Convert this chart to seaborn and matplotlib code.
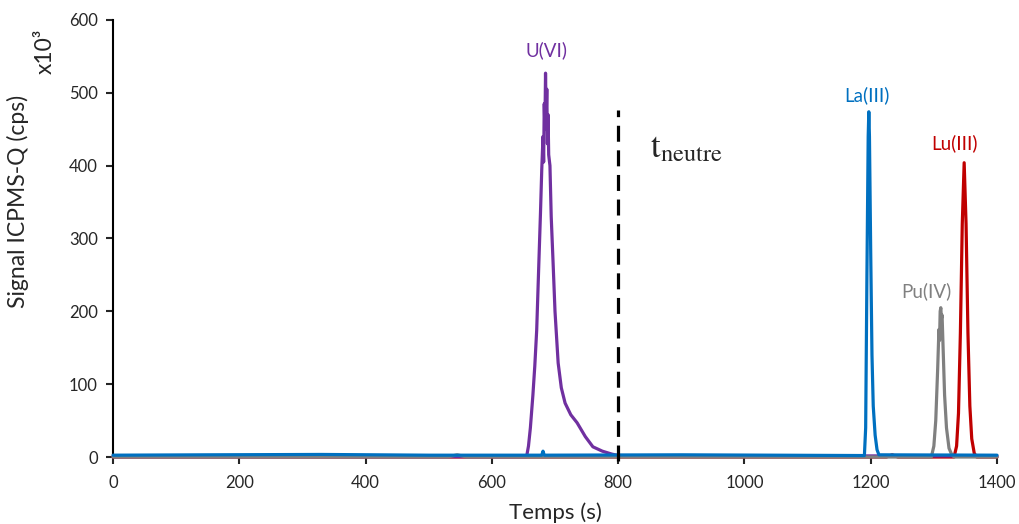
import numpy as np
import pandas as pd
import matplotlib
matplotlib.use('Agg')
import matplotlib.pyplot as plt
import seaborn as sns

# Signal ICPMS-Q (x10^3 cps)
u_t = [0, 300, 500, 655, 658, 661, 665, 668, 671, 674, 677, 679, 681, 682, 683, 684, 685, 686, 687,
       688, 689, 690, 692, 694, 697, 700, 705, 710, 716, 725, 735, 748, 760, 775, 790, 800, 1000, 1400]
u_v = [0.5, 0.5, 0.5, 0.5, 15, 40, 85, 125, 174, 255, 335, 394, 440, 405, 485, 450, 527, 465, 505,
       430, 470, 415, 400, 330, 266, 200, 129, 95, 74, 58, 47, 28, 14, 8, 4, 2, 1.5, 1.5]

la_t = [0, 150, 330, 500, 679, 681, 683, 900, 1190, 1192, 1194, 1196, 1197, 1198, 1200, 1202,
        1204, 1207, 1210, 1213, 1400]
la_v = [2.5, 3, 3.5, 2.5, 2.5, 8, 2.5, 3, 2, 40, 250, 440, 474, 440, 280, 140, 70, 30, 10, 3, 2.5]

pu_t = [0, 530, 545, 560, 1296, 1300, 1303, 1306, 1308, 1309, 1310, 1311, 1312, 1313, 1315,
        1317, 1320, 1324, 1328, 1332, 1400]
pu_v = [0, 0, 3, 0, 0, 15, 50, 120, 175, 160, 200, 205, 190, 195, 140, 85, 40, 12, 4, 0, 0]

lu_t = [0, 1225, 1234, 1243, 1332, 1336, 1339, 1342, 1345, 1348, 1351, 1354, 1357, 1360, 1364,
        1368, 1400]
lu_v = [0, 0, 3, 0, 0, 15, 60, 170, 320, 404, 320, 170, 70, 25, 5, 0, 0]

noms = ['Lu(III)', 'U(VI)', 'Pu(IV)', 'La(III)']
couleurs = {'U(VI)': '#7030A0', 'La(III)': '#0070C0', 'Lu(III)': '#C00000', 'Pu(IV)': '#808080'}
series = {'U(VI)': (u_t, u_v), 'La(III)': (la_t, la_v), 'Lu(III)': (lu_t, lu_v), 'Pu(IV)': (pu_t, pu_v)}

# positions des etiquettes (t, signal)
etiquettes = {'U(VI)': (687, 559), 'La(III)': (1194, 497), 'Lu(III)': (1332, 431), 'Pu(IV)': (1288, 228)}

t_neutre = 800

sns.set_style('white')
plt.rcParams['font.family'] = ['Lato', 'DejaVu Sans']
plt.rcParams['mathtext.fontset'] = 'stix'

fig = plt.figure(figsize=(10.19, 5.24), dpi=100)
ax = fig.add_axes([113 / 1019, 1 - 457 / 524, (997 - 113) / 1019, (457 - 20) / 524])

for nom in noms:
    t, v = series[nom]
    df = pd.DataFrame({'t': t, 'v': v})
    sns.lineplot(data=df, x='t', y='v', color=couleurs[nom], lw=2.3, sort=False,
                 estimator=None, ax=ax, zorder=3, clip_on=False)

ax.plot([t_neutre, t_neutre], [-6, 477], color='black', lw=2.3, dashes=(5, 2.7), zorder=4,
        clip_on=False)
ax.text(850, 424, r'$\mathrm{t}_{\mathrm{neutre}}$', fontsize=25, ha='left', va='center')

for nom, (x, y) in etiquettes.items():
    ax.text(x, y, nom, color=couleurs[nom], fontsize=13.5, ha='center', va='center')

ax.set_xlim(0, 1400)
ax.set_ylim(0, 600)
ax.set_xticks(np.arange(0, 1401, 200))
ax.set_yticks(np.arange(0, 601, 100))
ax.tick_params(axis='both', direction='out', length=5, width=1.5, labelsize=12,
               bottom=True, left=True)
ax.tick_params(axis='x', pad=8)
ax.tick_params(axis='y', pad=6)
sns.despine(ax=ax)
for s in ['left', 'bottom']:
    ax.spines[s].set_linewidth(1.5)
    ax.spines[s].set_color('black')

ax.set_xlabel('Temps (s)', fontsize=16)
ax.xaxis.set_label_coords(0.5, -0.105)
ax.set_ylabel('')
fig.text(18 / 1019, 1 - 201 / 524, 'Signal ICPMS-Q (cps)', rotation=90, fontsize=16.5,
         ha='center', va='center')
fig.text(45 / 1019, 1 - 51 / 524, 'x10³', rotation=90, fontsize=16.5, ha='center', va='center')

fig.savefig('out.png', dpi=100)
